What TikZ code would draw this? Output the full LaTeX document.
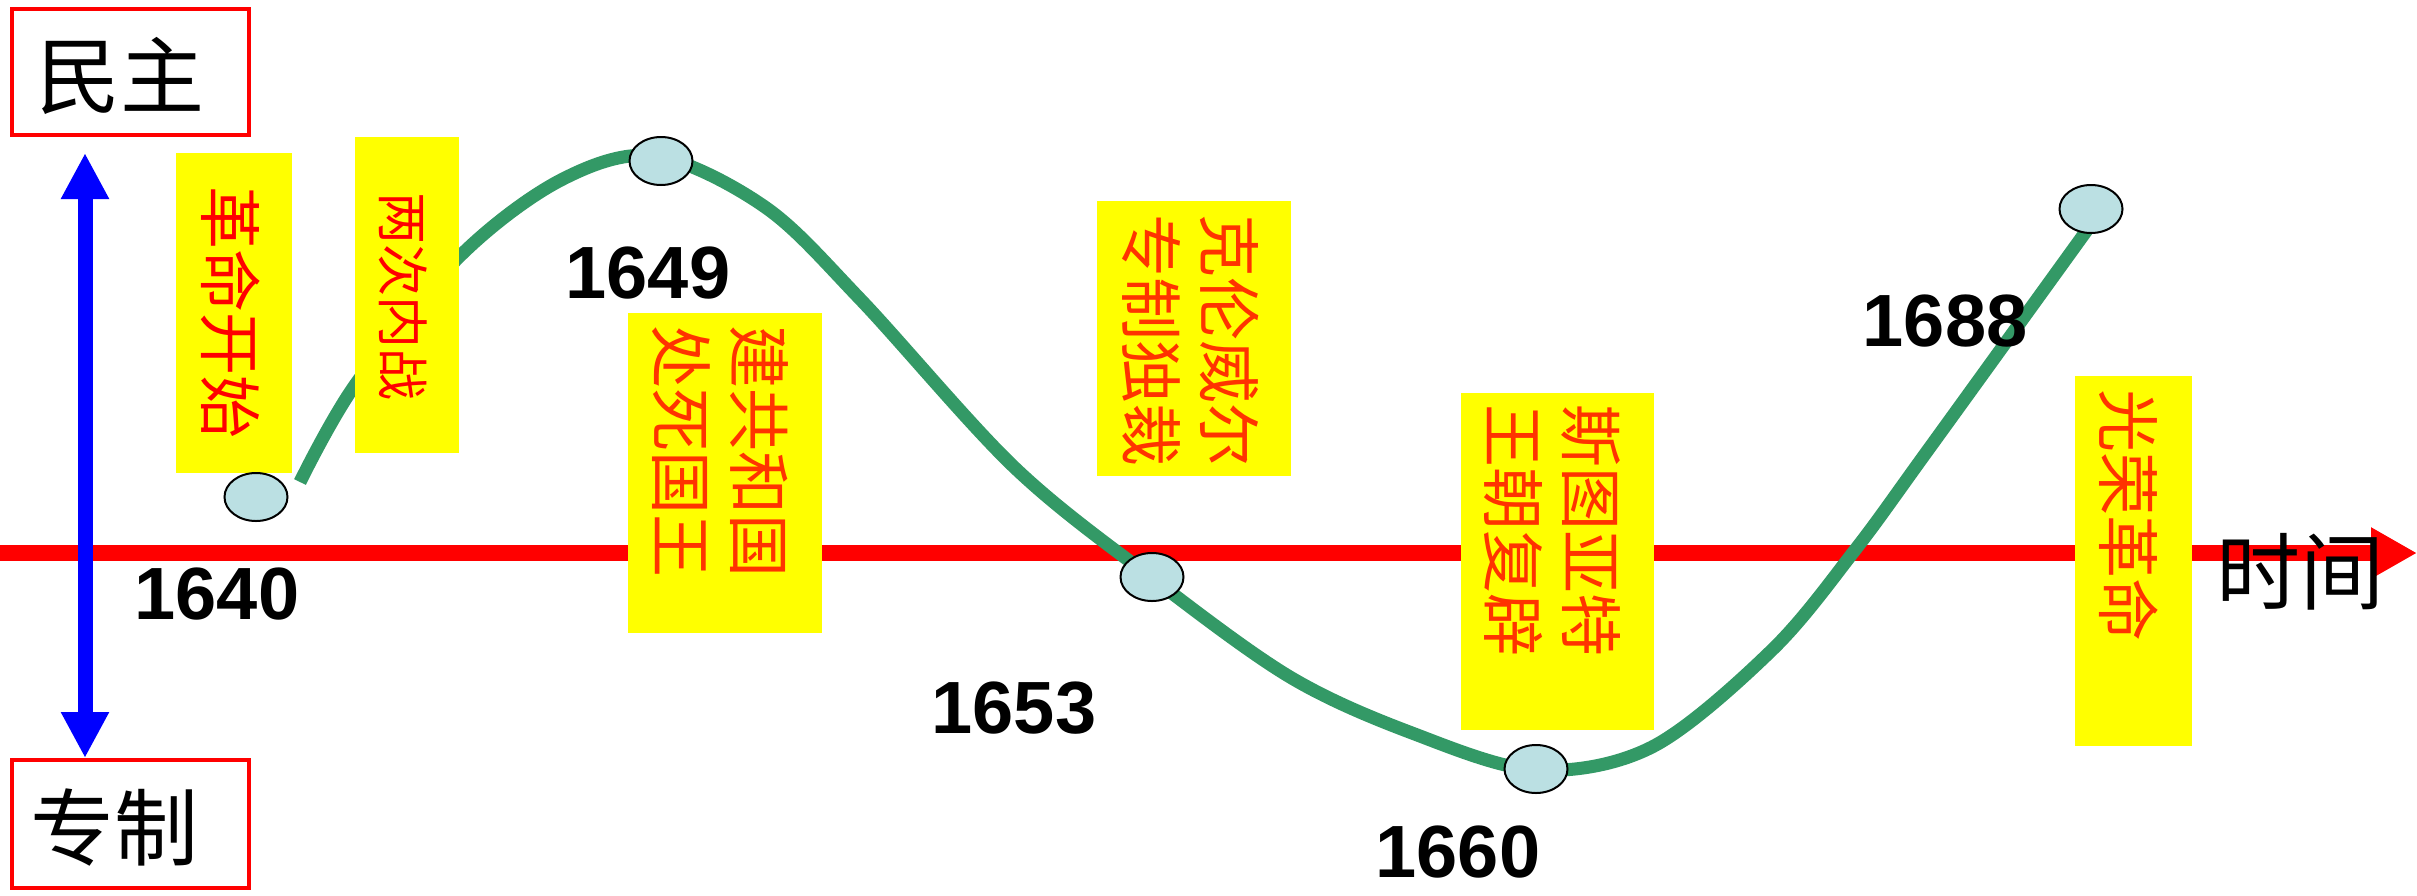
\documentclass[tikz,border=0pt]{standalone}
\usepackage{fontspec}
\newfontfamily\cjk{Noto Sans CJK SC}
\newfontfamily\numfont{Liberation Sans}
\usetikzlibrary{arrows.meta,shapes.geometric}
\definecolor{curvegreen}{RGB}{51,153,102}
\definecolor{dotfill}{RGB}{187,224,227}
\definecolor{lblred}{RGB}{255,51,0}
\definecolor{boxyellow}{RGB}{255,255,0}
\begin{document}
\begin{tikzpicture}[x=1pt,y=-1pt,
  ybox/.style={fill=boxyellow, draw=none, inner sep=0, anchor=north west, rectangle},
  frame/.style={draw=red, line width=3.5pt, fill=none, inner sep=0, anchor=north west, rectangle},
  bigtxt/.style={inner sep=0, text=black, font=\cjk\fontsize{84}{84}\selectfont},
  vtxt/.style={inner sep=0, rotate=-90, align=center, text=lblred, font=\cjk\fontsize{63}{78}\selectfont},
  year/.style={inner sep=0, text=black, font=\numfont\bfseries\fontsize{74}{74}\selectfont},
  dot/.style={ellipse, draw=black, line width=2pt, fill=dotfill, inner sep=0, minimum width=63pt, minimum height=48pt},
  curve/.style={draw=curvegreen, line width=13pt},
]
\useasboundingbox (0,0) rectangle (2417,895);
\fill[white] (0,0) rectangle (2417,895);

% time axis
\coordinate (ax0) at (0,553);
\coordinate (ax1) at (2417,553);
\draw[red, line width=16pt, -{Triangle[length=46pt,width=48pt]}] (ax0) -- (ax1);

% vertical axis
\coordinate (vt) at (85,153);
\coordinate (vb) at (85,758);
\draw[blue, line width=15pt, {Triangle[length=46pt,width=45pt]}-{Triangle[length=46pt,width=45pt]}] (vt) -- (vb);

% curve
\draw[curve] plot[smooth, tension=0.55] coordinates {
 (300,482) (355,385) (459,257) (561,180) (655,156) (765,207) (861,300)
 (1014,467) (1152,578) (1290,677) (1412,733) (1536,770) (1652,747)
 (1772,650) (1855,550) (1928,450) (2087,230)};

% yellow boxes
\node[ybox, minimum width=116pt, minimum height=320pt] (b1) at (176,153) {};
\node[ybox, minimum width=104pt, minimum height=316pt] (b2) at (355,137) {};
\node[ybox, minimum width=194pt, minimum height=320pt] (b3) at (628,313) {};
\node[ybox, minimum width=194pt, minimum height=275pt] (b4) at (1097,201) {};
\node[ybox, minimum width=193pt, minimum height=337pt] (b5) at (1461,393) {};
\node[ybox, minimum width=117pt, minimum height=370pt] (b6) at (2075,376) {};

% box texts
\node[vtxt, text=red] (t1) at (231,312) {革命开始};
\node[vtxt, text=red, font=\cjk\fontsize{52}{60}\selectfont] (t2) at (403,296) {两次内战};
\node[vtxt] (t3) at (720,451) {建共和国\\处死国王};
\node[vtxt] (t4) at (1191,340) {克伦威尔\\专制独裁};
\node[vtxt] (t5) at (1552,530) {斯图亚特\\王朝复辟};
\node[vtxt] (t6) at (2129,515) {光荣革命};

% dots
\node[dot] (e1) at (256,497) {};
\node[dot] (e2) at (661,161) {};
\node[dot] (e3) at (1152,577) {};
\node[dot] (e4) at (1536,769) {};
\node[dot] (e5) at (2091,209) {};

% years
\node[year] (y1) at (217,594) {1640};
\node[year] (y2) at (648,273) {1649};
\node[year] (y3) at (1014,708) {1653};
\node[year] (y4) at (1458,852) {1660};
\node[year] (y5) at (1945,321) {1688};

% frames
\node[frame, minimum width=237pt, minimum height=126pt] (f1) at (10,7) {};
\node[bigtxt] (m1) at (120,76) {民主};
\node[frame, minimum width=237pt, minimum height=128pt] (f2) at (10,758) {};
\node[bigtxt] (m2) at (114,828) {专制};
\node[bigtxt] (m3) at (2300,572) {时间};
\end{tikzpicture}
\end{document}
